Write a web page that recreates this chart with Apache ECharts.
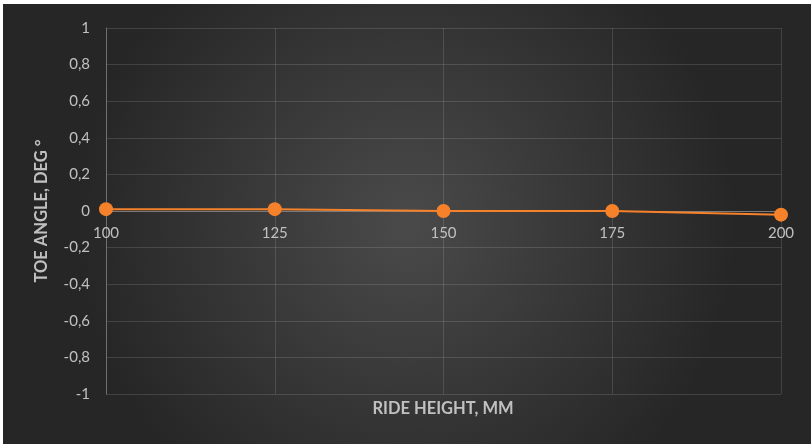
<!DOCTYPE html>
<html>
<head>
<meta charset="utf-8">
<script src="https://cdn.jsdelivr.net/npm/echarts@6/dist/echarts.min.js"></script>
<style>
html,body{margin:0;padding:0;background:#ffffff;}
#chart{position:absolute;left:3px;top:4px;width:808px;height:440px;}
</style>
</head>
<body>
<div id="chart"></div>
<script>
var categories = ['100', '125', '150', '175', '200'];
var toeAngle = [0.01, 0.01, 0, 0, -0.02];
var yTitle = 'TOE ANGLE, DEG °';
var xTitle = 'RIDE HEIGHT, MM';

var chart = echarts.init(document.getElementById('chart'));
var labelColor = '#c0c0c0';
var gridColor = 'rgba(255,255,255,0.13)';
var gridTop = 24, gridBottom = 50, chartH = 440;
var plotH = chartH - gridTop - gridBottom;
chart.setOption({
  backgroundColor: {
    type: 'radial', x: 0.5, y: 0.5, r: 0.75,
    colorStops: [
      {offset: 0, color: '#4a4a4a'},
      {offset: 1, color: '#262626'}
    ]
  },
  textStyle: {fontFamily: 'Lato, "Open Sans", sans-serif'},
  grid: {left: 103, right: 30, top: gridTop, bottom: gridBottom},
  xAxis: [{
    type: 'category',
    data: categories,
    boundaryGap: false,
    position: 'bottom',
    offset: -plotH / 2,
    axisLine: {show: true, onZero: false, lineStyle: {color: '#7a7a7a', width: 1}},
    axisTick: {show: false},
    axisLabel: {color: labelColor, fontSize: 15, margin: 15},
    splitLine: {show: true, lineStyle: {color: gridColor, width: 1}}
  }],
  yAxis: {
    type: 'value',
    min: -1, max: 1, interval: 0.2,
    name: yTitle,
    nameLocation: 'middle',
    nameGap: 56,
    nameTextStyle: {color: labelColor, fontSize: 16.5, fontWeight: 'bold'},
    axisLine: {show: true, lineStyle: {color: '#707070', width: 1}},
    axisTick: {show: false},
    axisLabel: {
      color: labelColor, fontSize: 15, margin: 16,
      formatter: function (v) {
        var s = Math.round(v * 10) / 10;
        return String(s).replace('.', ',');
      }
    },
    splitLine: {show: true, lineStyle: {color: gridColor, width: 1}}
  },
  graphic: [{
    type: 'text',
    x: 440,
    y: 405,
    style: {
      text: xTitle,
      fill: labelColor,
      align: 'center',
      verticalAlign: 'middle',
      font: 'bold 16.5px Lato, "Open Sans", sans-serif'
    }
  }],
  series: [{
    type: 'line',
    data: toeAngle,
    symbol: 'circle',
    symbolSize: 14,
    lineStyle: {color: '#f5822a', width: 2},
    itemStyle: {color: '#f5822a'},
    z: 5
  }]
});
</script>
</body>
</html>
